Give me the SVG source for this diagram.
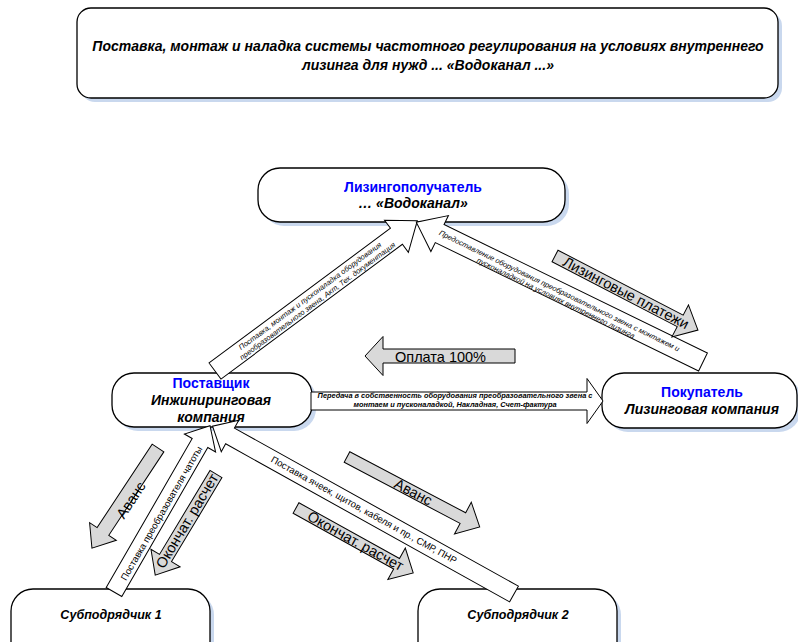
<svg xmlns="http://www.w3.org/2000/svg" width="798" height="642" viewBox="0 0 798 642">
<style>
text{font-family:"Liberation Sans",Arial,sans-serif;}
.box{fill:#fff;stroke:#000;stroke-width:1.3;}
.sh{fill:#c9d8ee;}
.blue{fill:#0000ff;font-weight:bold;font-size:14px;}
.bi{fill:#000;font-weight:bold;font-style:italic;font-size:14px;}
.band{fill:#fff;stroke:#000;stroke-width:1;}
.gray{fill:#d9d9d9;stroke:#000;stroke-width:1;}
.gt{font-size:14.5px;fill:#000;}
.it{font-style:italic;font-size:7.5px;fill:#000;}
.bit{font-style:italic;font-weight:bold;font-size:7.4px;fill:#000;}
.rt{font-size:9.5px;fill:#000;}
</style>
<rect width="798" height="642" fill="#fff"/>
<g id="title">
<rect class="sh" x="81" y="12" width="701" height="90" rx="14"/>
<rect class="box" x="77" y="8" width="701" height="90" rx="14"/>
<text class="bi" x="428" y="51" text-anchor="middle">Поставка, монтаж и наладка системы частотного регулирования на условиях внутреннего</text>
<text class="bi" x="428" y="70" text-anchor="middle">лизинга для нужд ... «Водоканал ...»</text>
</g>
<g id="lessee">
<rect class="sh" x="262" y="172" width="307" height="54" rx="22"/>
<rect class="box" x="258" y="168" width="307" height="54" rx="22"/>
<text class="blue" x="413" y="192" text-anchor="middle">Лизингополучатель</text>
<text class="bi" x="413" y="208" text-anchor="middle">… «Водоканал»</text>
</g>
<g id="supplier">
<rect class="sh" x="116" y="377" width="200" height="54" rx="22"/>
<rect class="box" x="112" y="373" width="200" height="54" rx="22"/>
<text class="blue" x="211" y="388" text-anchor="middle">Поставщик</text>
<text class="bi" x="211" y="405" text-anchor="middle">Инжиниринговая</text>
<text class="bi" x="211" y="422" text-anchor="middle">компания</text>
</g>
<g id="buyer">
<rect class="sh" x="606" y="377" width="195" height="55" rx="22"/>
<rect class="box" x="602" y="373" width="195" height="55" rx="22"/>
<text class="blue" x="702" y="397" text-anchor="middle">Покупатель</text>
<text class="bi" x="702" y="414" text-anchor="middle">Лизинговая компания</text>
</g>
<g id="sub1">
<rect class="sh" x="15" y="593" width="199" height="80" rx="22"/>
<rect class="box" x="11" y="589" width="199" height="80" rx="22"/>
<text class="bi" x="111" y="619" text-anchor="middle" style="font-size:12.5px">Субподрядчик 1</text>
</g>
<g id="sub2">
<rect class="sh" x="422" y="593" width="199" height="80" rx="22"/>
<rect class="box" x="418" y="589" width="199" height="80" rx="22"/>
<text class="bi" x="518" y="619" text-anchor="middle" style="font-size:12.5px">Субподрядчик 2</text>
</g>
<g id="connectors">
<g transform="translate(215,371) rotate(-36.6)">
<polygon class="band" points="0,-10 226,-10 226,-20 252,0 226,20 226,10 0,10"/>
<text class="it" x="121" y="-1" text-anchor="middle">Поставка, монтаж и пусконаладка оборудования</text>
<text class="it" x="124" y="7.5" text-anchor="middle">преобразовательного звена, Акт, Тех. документация</text>
</g>
<g transform="translate(703,362) rotate(206)">
<polygon class="band" points="0,-10 293,-10 293,-20 319,0 293,20 293,10 0,10"/>
</g>
<g transform="translate(416,222) rotate(26)">
<text class="it" x="159" y="1.5" text-anchor="middle">Предоставление оборудования преобразовательного звена с монтажем и</text>
<text class="it" x="159" y="9.5" text-anchor="middle">пусконаладкой на условиях внутреннего лизинга</text>
</g>
<g transform="translate(311,401)">
<polygon class="band" points="0,-9 276,-9 276,-22.5 292,0 276,22.5 276,9 0,9"/>
<text class="bit" x="144" y="-3" text-anchor="middle">Передача в собственность оборудования преобразовательного звена с</text>
<text class="bit" x="144" y="6" text-anchor="middle">монтаем и пусконаладкой, Накладная, Счет-фактура</text>
</g>
<g transform="translate(114,592) rotate(-60)">
<polygon class="band" points="0,-9 172,-9 172,-18 192,0 172,18 172,9 0,9"/>
<text class="rt" x="92" y="5" text-anchor="middle">Поставка преобразователя чатоты</text>
</g>
<g transform="translate(514,594) rotate(209.1)">
<polygon class="band" points="0,-9 325,-9 325,-18 345,0 325,18 325,9 0,9"/>
</g>
<g transform="translate(212.6,426) rotate(29.1)">
<text class="rt" x="173" y="3" text-anchor="middle">Поставка ячеек, щитов, кабеля и пр., СМР, ПНР</text>
</g>
<g transform="translate(555,256) rotate(27.4)">
<polygon class="gray" points="0,-6.5 141,-6.5 141,-18 161,0 141,18 141,6.5 0,6.5"/>
<text class="gt" x="80" y="5" text-anchor="middle">Лизинговые платежи</text>
</g>
<g transform="translate(515,356) rotate(180)">
<polygon class="gray" points="0,-7 132,-7 132,-19.5 150,0 132,19.5 132,7 0,7"/>
</g>
<text class="gt" x="395" y="362">Оплата 100%</text>
<g transform="translate(158,448) rotate(123.4)">
<polygon class="gray" points="0,-7 100,-7 100,-16 120,0 100,16 100,7 0,7"/>
</g>
<text class="gt" transform="translate(131,500) rotate(-56.6)" x="0" y="5" text-anchor="middle">Аванс</text>
<g transform="translate(216,474) rotate(121)">
<polygon class="gray" points="0,-7 98,-7 98,-17 118,0 98,17 98,7 0,7"/>
</g>
<text class="gt" transform="translate(187,521) rotate(-59)" x="0" y="5" text-anchor="middle">Окончат. расчет</text>
<g transform="translate(347,457) rotate(27.8)">
<polygon class="gray" points="0,-6 131,-6 131,-18 150,0 131,18 131,6 0,6"/>
<text class="gt" x="75" y="5" text-anchor="middle">Аванс</text>
</g>
<g transform="translate(296,508) rotate(29)">
<polygon class="gray" points="0,-6 115,-6 115,-18 134,0 115,18 115,6 0,6"/>
<text class="gt" x="68" y="5" text-anchor="middle">Окончат. расчет</text>
</g>
</g>
</svg>
